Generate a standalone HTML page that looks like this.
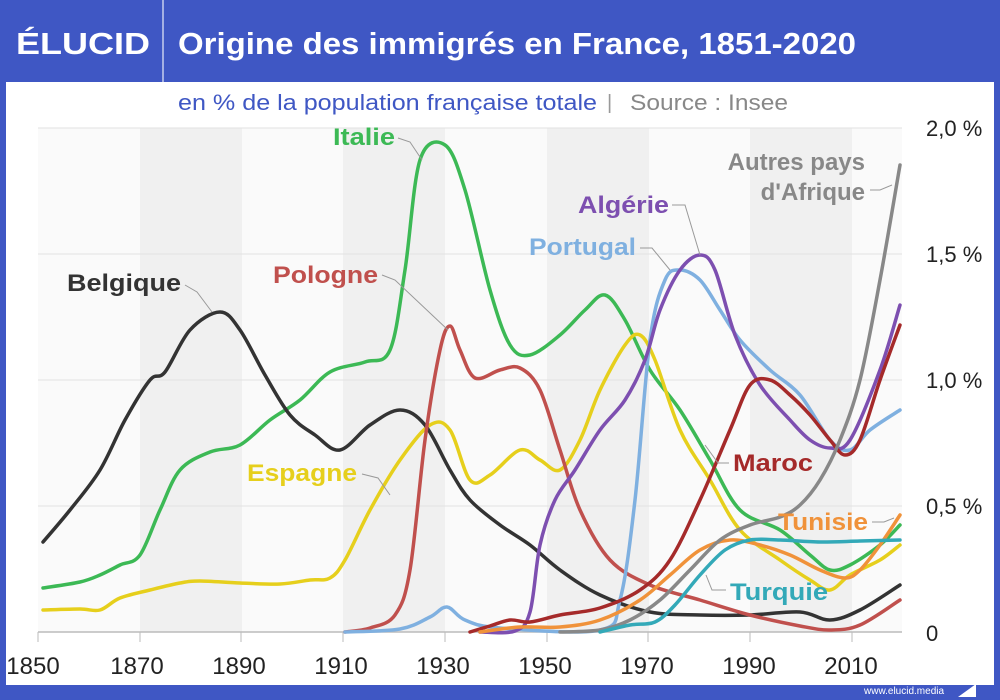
<!DOCTYPE html>
<html><head><meta charset="utf-8"><style>
html,body{margin:0;padding:0;width:1000px;height:700px;overflow:hidden;background:#3f57c4;font-family:"Liberation Sans",sans-serif}
</style></head><body>
<svg id="s" width="1000" height="700" xmlns="http://www.w3.org/2000/svg" style="position:absolute;left:0;top:0">
<rect x="0" y="0" width="1000" height="700" fill="#3f57c4"/>
<rect x="6" y="82" width="988" height="603" fill="#fff"/>
<line x1="163" y1="0" x2="163" y2="82" stroke="#fff" stroke-width="1.5" opacity="0.7"/>
<text x="16" y="54" font-size="31" font-weight="bold" fill="#fff" textLength="134" lengthAdjust="spacingAndGlyphs">ÉLUCID</text>
<text x="178" y="54" font-size="31" font-weight="bold" fill="#fff" textLength="678" lengthAdjust="spacingAndGlyphs">Origine des immigrés en France, 1851-2020</text>
<text x="178" y="110" font-size="22" fill="#3f57c4" textLength="419" lengthAdjust="spacingAndGlyphs">en % de la population française totale</text>
<text x="607" y="109" font-size="20" fill="#999">|</text>
<text x="630" y="110" font-size="22" fill="#888" textLength="158" lengthAdjust="spacingAndGlyphs">Source : Insee</text>
<rect x="38" y="128" width="864" height="504" fill="#fafafa"/>
<rect x="140" y="128" width="102" height="504" fill="#f0f0f0"/>
<rect x="343" y="128" width="102" height="504" fill="#f0f0f0"/>
<rect x="547" y="128" width="102" height="504" fill="#f0f0f0"/>
<rect x="750" y="128" width="102" height="504" fill="#f0f0f0"/>
<g stroke="#e2e2e2" stroke-width="1">
<line x1="38" y1="128" x2="902" y2="128"/><line x1="38" y1="254" x2="902" y2="254"/>
<line x1="38" y1="380" x2="902" y2="380"/><line x1="38" y1="506" x2="902" y2="506"/>
</g>
<line x1="38" y1="632" x2="902" y2="632" stroke="#bbb" stroke-width="1.5"/>
<g stroke="#bbb" stroke-width="1">
<line x1="38" y1="632" x2="38" y2="642"/><line x1="140" y1="632" x2="140" y2="642"/><line x1="241" y1="632" x2="241" y2="642"/><line x1="343" y1="632" x2="343" y2="642"/><line x1="445" y1="632" x2="445" y2="642"/><line x1="547" y1="632" x2="547" y2="642"/><line x1="648" y1="632" x2="648" y2="642"/><line x1="750" y1="632" x2="750" y2="642"/><line x1="852" y1="632" x2="852" y2="642"/>
</g>
<g font-size="24" fill="#222" text-anchor="middle">
<text x="33" y="674">1850</text><text x="137" y="674">1870</text><text x="239" y="674">1890</text><text x="341" y="674">1910</text><text x="443" y="674">1930</text><text x="545" y="674">1950</text><text x="647" y="674">1970</text><text x="749" y="674">1990</text><text x="851" y="674">2010</text>
</g>
<g font-size="22" fill="#222">
<text x="926" y="136">2,0 %</text><text x="926" y="262">1,5 %</text><text x="926" y="388">1,0 %</text><text x="926" y="514">0,5 %</text><text x="926" y="641">0</text>
</g>
<g id="curves" fill="none" stroke-width="3.5" stroke-linecap="round" stroke-linejoin="round"></g>
<g stroke="#999" stroke-width="1" fill="none">
<polyline points="398,138 410,142 422,160"/>
<polyline points="185,285 197,292 212,312"/>
<polyline points="382,275 395,280 448,330"/>
<polyline points="362,474 378,478 390,495"/>
<polyline points="672,205 685,205 700,255"/>
<polyline points="640,248 652,248 670,270"/>
<polyline points="870,190 880,190 892,185"/>
<polyline points="729,463 718,463 705,445"/>
<polyline points="872,522 884,522 894,518"/>
<polyline points="726,590 712,590 706,575"/>
</g>
<g font-size="24" font-weight="bold">
<text x="333" y="145" fill="#3cb955" textLength="62" lengthAdjust="spacingAndGlyphs">Italie</text>
<text x="67" y="291" fill="#333" textLength="114" lengthAdjust="spacingAndGlyphs">Belgique</text>
<text x="273" y="283" fill="#c0504d" textLength="105" lengthAdjust="spacingAndGlyphs">Pologne</text>
<text x="247" y="481" fill="#e6cf1c" textLength="110" lengthAdjust="spacingAndGlyphs">Espagne</text>
<text x="578" y="213" fill="#7d4fb0" textLength="91" lengthAdjust="spacingAndGlyphs">Algérie</text>
<text x="529" y="255" fill="#7fb0e0" textLength="107" lengthAdjust="spacingAndGlyphs">Portugal</text>
<text x="865" y="170" fill="#888" text-anchor="end">Autres pays</text>
<text x="865" y="200" fill="#888" text-anchor="end">d'Afrique</text>
<text x="733" y="471" fill="#a52a2a" textLength="80" lengthAdjust="spacingAndGlyphs">Maroc</text>
<text x="778" y="530" fill="#f0923a" textLength="90" lengthAdjust="spacingAndGlyphs">Tunisie</text>
<text x="730" y="600" fill="#33a9b8" textLength="98" lengthAdjust="spacingAndGlyphs">Turquie</text>
</g>
<text x="864" y="694" font-size="10" fill="#fff">www.elucid.media</text>
<polygon points="958,697 976,684 976,697" fill="#fff"/>
</svg>
<script>
var S=[
["#3cb955",[[43,588],[80,582],[100,575],[120,565],[140,555],[160,510],[180,470],[210,452],[240,445],[270,420],[300,400],[330,372],[365,362],[390,350],[405,270],[420,160],[445,145],[465,190],[490,290],[510,345],[530,355],[560,335],[585,310],[605,295],[625,320],[650,370],[680,410],[710,460],[740,510],[780,530],[810,555],[830,570],[850,565],[880,545],[900,525]]],
["#e6cf1c",[[43,610],[80,609],[100,610],[120,598],[150,590],[180,583],[200,581],[240,583],[280,584],[310,580],[330,578],[345,560],[370,510],[400,460],[430,425],[450,430],[470,480],[490,475],[520,450],[540,460],[560,470],[580,440],[600,390],[625,345],[640,335],[655,360],[680,430],[710,480],[740,530],[780,560],[810,580],[830,590],[850,575],[880,560],[900,545]]],
["#333",[[43,542],[70,510],[100,470],[125,420],[150,380],[165,372],[190,330],[220,312],[240,330],[265,375],[290,415],[315,435],[340,450],[370,425],[400,410],[425,425],[450,470],[470,500],[500,525],[530,545],[560,570],[600,595],[650,612],[700,615],[750,615],[800,612],[830,620],[860,610],[900,585]]],
["#c0504d",[[345,632],[370,628],[395,615],[410,570],[425,440],[440,350],[450,326],[460,350],[475,378],[500,370],[520,368],[540,390],[560,450],[580,510],[610,560],[650,585],[700,600],[750,615],[800,626],[830,630],[860,625],[900,600]]],
["#7fb0e0",[[345,632],[400,629],[430,617],[447,607],[465,620],[500,628],[600,630],[620,600],[635,500],[650,340],[665,280],[680,270],[700,280],[720,310],[740,340],[770,370],[800,395],[830,440],[850,450],[870,430],[900,410]]],
["#7d4fb0",[[480,632],[515,631],[530,612],[540,545],[555,500],[575,470],[600,430],[625,400],[645,360],[660,310],[680,270],[700,255],[715,270],[735,335],[760,385],[790,420],[810,440],[830,448],[850,440],[880,370],[900,305]]],
["#a52a2a",[[470,632],[490,626],[510,620],[530,622],[560,615],[600,608],[640,590],[670,560],[700,500],[730,430],[750,385],[770,380],[790,395],[810,415],[830,440],[845,455],[860,440],[880,380],[900,325]]],
["#f0923a",[[480,632],[520,627],[560,627],[600,620],[640,600],[670,575],[700,550],[730,540],[760,545],[790,555],[820,570],[845,578],[860,570],[880,545],[900,515]]],
["#888",[[560,632],[600,630],[630,620],[660,600],[690,570],[720,540],[750,525],[780,517],[800,505],[820,480],[840,440],[860,380],[880,280],[900,165]]],
["#33a9b8",[[600,632],[630,625],[655,622],[675,605],[700,575],[725,550],[750,540],[780,540],[820,542],[860,541],[900,540]]]
];
var g=document.getElementById("curves");
S.forEach(function(s){var p=s[1],d="M"+p[0][0]+","+p[0][1];
for(var i=0;i<p.length-1;i++){var a=p[i-1]||p[i],b=p[i],c=p[i+1],e=p[i+2]||c;
d+=" C"+(b[0]+(c[0]-a[0])/6)+","+(b[1]+(c[1]-a[1])/6)+" "+(c[0]-(e[0]-b[0])/6)+","+(c[1]-(e[1]-b[1])/6)+" "+c[0]+","+c[1];}
var el=document.createElementNS("http://www.w3.org/2000/svg","path");el.setAttribute("d",d);el.setAttribute("stroke",s[0]);g.appendChild(el);});
</script>
</body></html>
